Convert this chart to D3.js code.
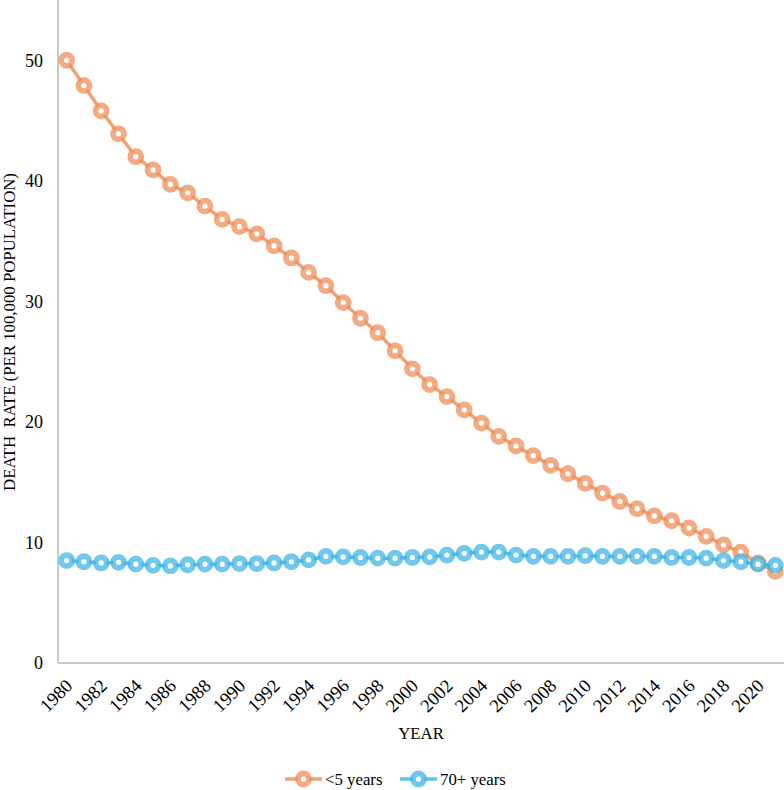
<!DOCTYPE html>
<html>
<head>
<meta charset="utf-8">
<script src="https://cdn.jsdelivr.net/npm/d3@7"></script>
<style>
  body { margin: 0; background: #fff; }
  svg text { font-family: "Liberation Serif", "Times New Roman", serif; fill: #000; }
</style>
</head>
<body>
<svg id="chart" width="784" height="790"></svg>
<script>
// data
var years = d3.range(1980, 2022);
var under5 = [50.0, 47.9, 45.8, 43.9, 42.0, 40.9, 39.7, 39.0, 37.9, 36.8,
              36.2, 35.6, 34.6, 33.6, 32.4, 31.3, 29.9, 28.6, 27.4, 25.9,
              24.4, 23.1, 22.1, 21.0, 19.9, 18.8, 18.0, 17.2, 16.4, 15.7,
              14.9, 14.1, 13.4, 12.8, 12.2, 11.8, 11.2, 10.5, 9.8, 9.2,
              8.3, 7.6];
var over70 = [8.5, 8.4, 8.3, 8.35, 8.2, 8.1, 8.05, 8.15, 8.2, 8.2,
              8.25, 8.25, 8.3, 8.4, 8.55, 8.85, 8.8, 8.75, 8.7, 8.7,
              8.75, 8.8, 8.95, 9.1, 9.2, 9.2, 8.95, 8.85, 8.85, 8.85,
              8.9, 8.85, 8.85, 8.85, 8.85, 8.75, 8.75, 8.7, 8.5, 8.4,
              8.2, 8.1];
var yTicks = [0, 10, 20, 30, 40, 50];
var xLabels = d3.range(1980, 2021, 2);
var seriesNames = ["<5 years", "70+ years"];
var seriesColors = ["#EF8A55", "#3AB3E5"];

var svg = d3.select("#chart");
var padLeft = 58, padRight = 784, padTop = 0, padBottom = 663;

var xScale = d3.scaleBand().domain(years).range([padLeft, padRight]);
var yScale = d3.scaleLinear().domain([0, 55]).range([padBottom, padTop]);
var xPos = d => xScale(d) + xScale.bandwidth() / 2;

// axes
var yAxis = svg.append("g")
    .attr("transform", "translate(" + padLeft + ",0)")
    .call(d3.axisLeft(yScale).tickValues(yTicks).tickSize(0).tickPadding(15));
yAxis.select(".domain").attr("stroke", "#c8c8c8").attr("stroke-width", 2)
    .attr("d", "M0," + padTop + "V" + padBottom);
yAxis.selectAll("text").style("font-size", "18px")
    .style("font-family", "Liberation Serif, serif");

var xAxis = svg.append("g")
    .attr("transform", "translate(0," + padBottom + ")")
    .call(d3.axisBottom(xScale).tickValues(xLabels).tickSize(0));
xAxis.select(".domain").attr("stroke", "#c8c8c8").attr("stroke-width", 2)
    .attr("d", "M" + padLeft + ",0H" + padRight);
xAxis.selectAll("text")
    .style("font-size", "18.5px")
    .style("font-family", "Liberation Serif, serif")
    .style("text-anchor", "end")
    .attr("dy", null)
    .attr("y", 0)
    .attr("transform", "translate(7,24) rotate(-45)");

// axis titles
svg.append("text")
    .attr("transform", "translate(15,332) rotate(-90)")
    .attr("text-anchor", "middle")
    .style("font-size", "16.8px")
    .style("white-space", "pre")
    .text("DEATH  RATE (PER 100,000 POPULATION)");
svg.append("text")
    .attr("x", 421).attr("y", 739)
    .attr("text-anchor", "middle")
    .style("font-size", "16.8px")
    .text("YEAR");

// series
var allSeries = [under5, over70];
allSeries.forEach(function (vals, i) {
    var pts = years.map((yr, j) => [yr, vals[j]]);
    var line = d3.line().x(d => xPos(d[0])).y(d => yScale(d[1]));
    var g = svg.append("g");
    g.append("path")
        .datum(pts)
        .attr("d", line)
        .attr("fill", "none")
        .attr("stroke", seriesColors[i])
        .attr("stroke-opacity", 0.8)
        .attr("stroke-width", 3.5);
    g.selectAll("circle")
        .data(pts)
        .enter().append("circle")
        .attr("cx", d => xPos(d[0]))
        .attr("cy", d => yScale(d[1]))
        .attr("r", 5.5)
        .attr("fill", "#fff")
        .attr("stroke", seriesColors[i])
        .attr("stroke-opacity", 0.72)
        .attr("stroke-width", 5.8);
});

// legend
var legendX = [285, 400];
seriesNames.forEach(function (name, i) {
    var g = svg.append("g").attr("transform", "translate(" + legendX[i] + ",779)");
    g.append("line").attr("x1", 0).attr("x2", 37).attr("y1", 0).attr("y2", 0)
        .attr("stroke", seriesColors[i]).attr("stroke-opacity", 0.8).attr("stroke-width", 3.5);
    g.append("circle").attr("cx", 18.5).attr("cy", 0).attr("r", 5.5)
        .attr("fill", "#fff").attr("stroke", seriesColors[i])
        .attr("stroke-opacity", 0.72).attr("stroke-width", 5.8);
    g.append("text").attr("x", 40).attr("y", 5.5)
        .style("font-size", "16.8px").text(name);
});
</script>
</body>
</html>
